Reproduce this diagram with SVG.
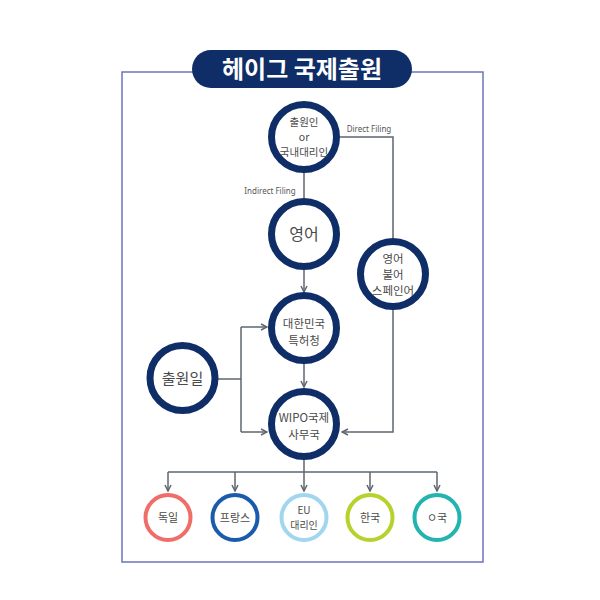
<svg xmlns="http://www.w3.org/2000/svg" width="600" height="600" viewBox="0 0 600 600">
<defs>
<style>
.t{font-family:"Noto Sans CJK KR","Noto Sans",sans-serif;fill:#4a4a4a;text-anchor:middle}
.n{fill:#fff;stroke:#0f2d67;stroke-width:7}
.b{fill:#fff;stroke-width:4}
.c{fill:none;stroke:#5d6670;stroke-width:1.5}
.lbl{font-family:"Noto Sans","Liberation Sans",sans-serif;font-size:8px;fill:#555;text-anchor:middle}
</style>
<marker id="ah" markerWidth="8" markerHeight="8" refX="7" refY="4" orient="auto" markerUnits="userSpaceOnUse">
<path d="M1,1 L7,4 L1,7" fill="none" stroke="#5d6670" stroke-width="1.5"/>
</marker>
</defs>
<rect width="600" height="600" fill="#fff"/>
<rect x="122" y="72" width="361" height="490" fill="none" stroke="#6b74b8" stroke-width="1.5"/>
<g id="title">
<rect x="192" y="50" width="220" height="38" rx="19" fill="#0f2d67"/>
<text x="302" y="78" class="t" style="fill:#fff;font-size:24px;font-weight:bold">헤이그 국제출원</text>
</g>
<g id="connectors">
<path class="c" d="M340,137 H393 V238"/>
<text class="lbl" x="369" y="132">Direct Filing</text>
<path class="c" d="M304,172 V198"/>
<text class="lbl" x="270" y="194">Indirect Filing</text>
<path class="c" d="M304,270 V292" marker-end="url(#ah)"/>
<path class="c" d="M304,363 V387" marker-end="url(#ah)"/>
<path class="c" d="M393,310 V432 H342" marker-end="url(#ah)"/>
<path class="c" d="M217,379 H241"/>
<path class="c" d="M241,327 V432"/>
<path class="c" d="M241,327 H267" marker-end="url(#ah)"/>
<path class="c" d="M241,432 H267" marker-end="url(#ah)"/>
<path class="c" d="M304,460 V472"/>
<path class="c" d="M168,472 H437"/>
<path class="c" d="M168,472 V491" marker-end="url(#ah)"/>
<path class="c" d="M235,472 V491" marker-end="url(#ah)"/>
<path class="c" d="M304,472 V491" marker-end="url(#ah)"/>
<path class="c" d="M370,472 V491" marker-end="url(#ah)"/>
<path class="c" d="M437,472 V491" marker-end="url(#ah)"/>
</g>
<g id="applicant">
<circle class="n" cx="304" cy="137" r="32.5"/>
<text class="t" x="304" y="126" font-size="10.5">출원인</text>
<text class="t" x="304" y="141" font-size="10.5">or</text>
<text class="t" x="304" y="156" font-size="10.5">국내대리인</text>
</g>
<g id="english">
<circle class="n" cx="304" cy="234" r="32.5"/>
<text class="t" x="304" y="240" font-size="16">영어</text>
</g>
<g id="languages">
<circle class="n" cx="393" cy="274" r="32.5"/>
<text class="t" x="393" y="263" font-size="11.5">영어</text>
<text class="t" x="393" y="279" font-size="11.5">불어</text>
<text class="t" x="393" y="295" font-size="11.5">스페인어</text>
</g>
<g id="kipo">
<circle class="n" cx="304" cy="328" r="32.5"/>
<text class="t" x="304" y="328" font-size="11.5">대한민국</text>
<text class="t" x="304" y="345" font-size="11.5">특허청</text>
</g>
<g id="filingdate">
<circle class="n" cx="182.5" cy="378" r="32.5"/>
<text class="t" x="182.5" y="384" font-size="15">출원일</text>
</g>
<g id="wipo">
<circle class="n" cx="304" cy="424" r="32.5"/>
<text class="t" x="304" y="422" font-size="11.5">WIPO국제</text>
<text class="t" x="304" y="439" font-size="11.5">사무국</text>
</g>
<g id="germany">
<circle class="b" cx="168" cy="517.5" r="22.5" stroke="#ef6e68"/>
<text class="t" x="168" y="522" font-size="11">독일</text>
</g>
<g id="france">
<circle class="b" cx="235" cy="517.5" r="22.5" stroke="#1b5bab"/>
<text class="t" x="235" y="522" font-size="11">프랑스</text>
</g>
<g id="eu">
<circle class="b" cx="304" cy="517.5" r="22.5" stroke="#a2d6ee"/>
<text class="t" x="304" y="514" font-size="10">EU</text>
<text class="t" x="304" y="529" font-size="10">대리인</text>
</g>
<g id="korea">
<circle class="b" cx="370" cy="517.5" r="22.5" stroke="#b7d12d"/>
<text class="t" x="370" y="522" font-size="11">한국</text>
</g>
<g id="uk">
<circle class="b" cx="437" cy="517.5" r="22.5" stroke="#22b4b0"/>
<text class="t" x="437" y="522" font-size="11">ㅇ국</text>
</g>
</svg>
